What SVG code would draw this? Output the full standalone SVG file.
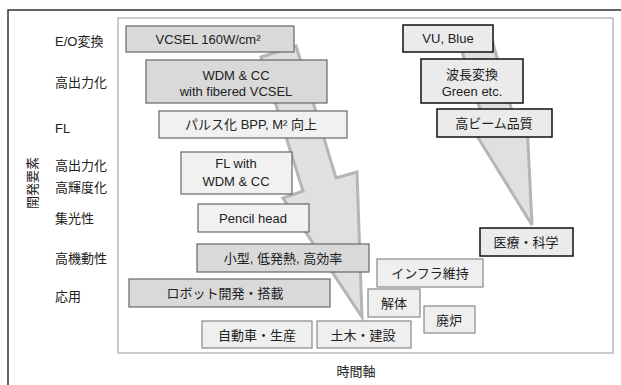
<svg xmlns="http://www.w3.org/2000/svg" width="621" height="385" viewBox="0 0 621 385">
<style>
text{font-family:"Liberation Sans","Noto Sans CJK JP",sans-serif;font-size:13px;fill:#222;text-anchor:middle}
.lab{text-anchor:start}
.dk{fill:#d9d9d9;stroke:#666;stroke-width:1.2}
.lt{fill:#f1f1f1;stroke:#666;stroke-width:1.2}
.bt{fill:#efefef;stroke:#888;stroke-width:1.2}
.bk{fill:#ebebeb;stroke:#111;stroke-width:1.5}
.arw{fill:#e0e0e0;stroke:#b5b5b5;stroke-width:3;stroke-linejoin:miter}
</style>
<rect width="621" height="385" fill="#fff"/>
<path d="M8 385V10H621" fill="none" stroke="#333" stroke-width="1.5"/>
<rect x="118" y="18" width="495" height="335" fill="#fff" stroke="#bbb" stroke-width="1.5"/>
<g id="axis-labels">
<text class="lab" x="55" y="46">E/O変換</text>
<text class="lab" x="55" y="87">高出力化</text>
<text class="lab" x="55" y="133">FL</text>
<text class="lab" x="55" y="170">高出力化</text>
<text class="lab" x="55" y="192">高輝度化</text>
<text class="lab" x="55" y="223">集光性</text>
<text class="lab" x="55" y="263">高機動性</text>
<text class="lab" x="55" y="301">応用</text>
<text transform="translate(37 183) rotate(-90)">開発要素</text>
<text x="356" y="376">時間軸</text>
</g>
<g id="connectors">
<polygon class="arw" points="261,57 296,46 336,178 357,172 362,317 283,198 303,191"/>
<polygon class="arw" points="460,45 491,36 516,125 527,122 532,225 469,123 485,125"/>
</g>
<g id="n-vcsel"><rect class="dk" x="126" y="26" width="168" height="26"/><text x="208" y="44">VCSEL 160W/cm²</text></g>
<g id="n-wdm"><rect class="dk" x="146" y="60" width="181" height="43"/><text x="236" y="80">WDM &amp; CC</text><text x="236" y="96">with fibered VCSEL</text></g>
<g id="n-pulse"><rect class="lt" x="159" y="111" width="188" height="27"/><text x="251" y="129">パルス化 BPP, M² 向上</text></g>
<g id="n-flwdm"><rect class="lt" x="181" y="152" width="111" height="42"/><text x="236" y="168">FL with</text><text x="236" y="186">WDM &amp; CC</text></g>
<g id="n-pencil"><rect class="lt" x="198" y="204" width="111" height="28"/><text x="253" y="223">Pencil head</text></g>
<g id="n-small"><rect class="dk" x="197" y="244" width="172" height="28"/><text x="283" y="263">小型, 低発熱, 高効率</text></g>
<g id="n-robot"><rect class="dk" x="129" y="279" width="201" height="28"/><text x="225" y="298">ロボット開発・搭載</text></g>
<g id="n-car"><rect class="bt" x="202" y="321" width="110" height="27"/><text x="257" y="340">自動車・生産</text></g>
<g id="n-civil"><rect class="bt" x="317" y="321" width="94" height="27"/><text x="363" y="340">土木・建設</text></g>
<g id="n-demol"><rect class="bt" x="368" y="289" width="52" height="28"/><text x="394" y="308">解体</text></g>
<g id="n-decom"><rect class="bt" x="424" y="306" width="51" height="27"/><text x="449" y="325">廃炉</text></g>
<g id="n-infra"><rect class="bt" x="377" y="259" width="106" height="28"/><text x="430" y="278">インフラ維持</text></g>
<g id="n-medical"><rect class="bk" x="480" y="228" width="93" height="28"/><text x="526" y="247">医療・科学</text></g>
<g id="n-vu"><rect class="bk" x="403" y="25" width="90" height="27"/><text x="448" y="43">VU, Blue</text></g>
<g id="n-wave"><rect class="bk" x="421" y="59" width="102" height="44"/><text x="472" y="79">波長変換</text><text x="472" y="96">Green etc.</text></g>
<g id="n-beam"><rect class="bk" x="437" y="109" width="115" height="28"/><text x="494" y="128">高ビーム品質</text></g>
</svg>
